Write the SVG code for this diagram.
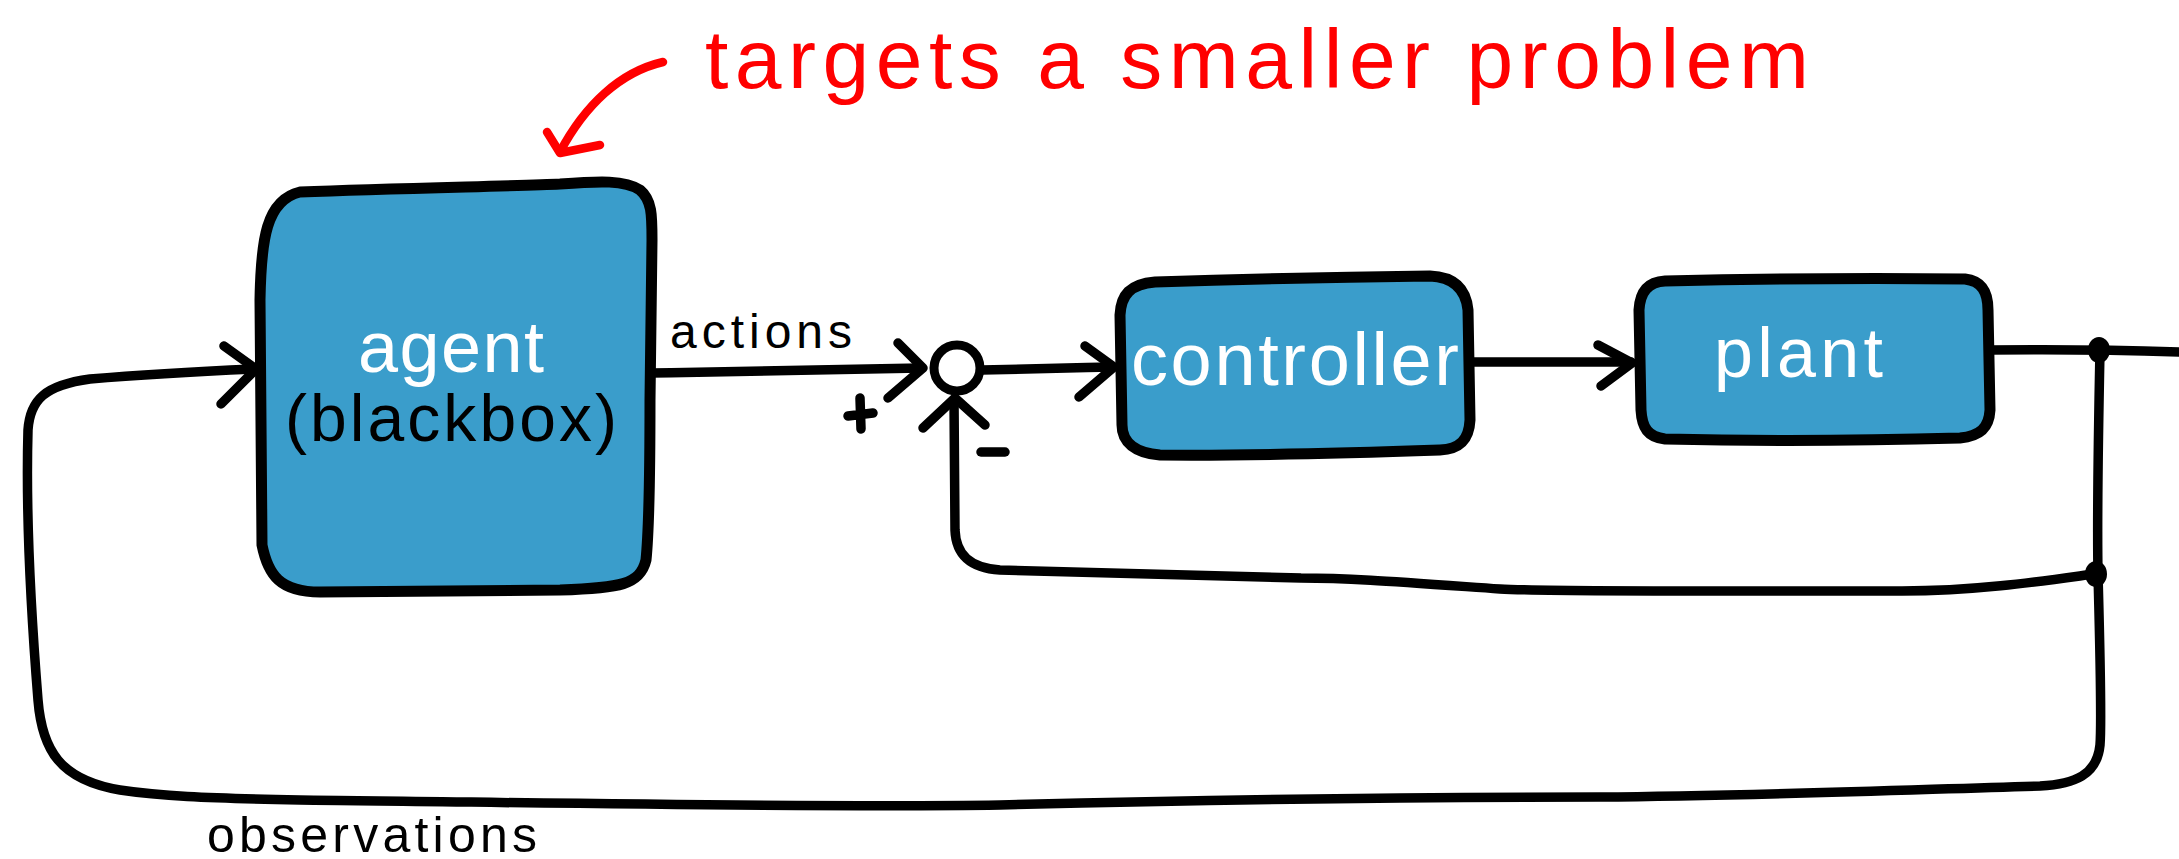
<svg xmlns="http://www.w3.org/2000/svg" width="2179" height="859" viewBox="0 0 2179 859">
<style>
.box{fill:#3a9dcb;stroke:#000;stroke-width:11;stroke-linejoin:round}
.ln{fill:none;stroke:#000;stroke-width:9.5;stroke-linecap:round;stroke-linejoin:round}
.hd{fill:none;stroke:#000;stroke-width:9.5;stroke-linecap:round;stroke-linejoin:round}
.red{fill:none;stroke:#ff0000;stroke-width:8.5;stroke-linecap:round;stroke-linejoin:round}
.t{font-family:"Liberation Sans",Arial,sans-serif}
.w{fill:#fff}
.k{fill:#000}
</style>
<rect width="2179" height="859" fill="#fff"/>

<g id="annotation">
<path class="red" d="M663 62 C620 72 585 105 560 152"/>
<path class="red" d="M547 132 L560 153 L600 145"/>
<text class="t" x="705" y="88" font-size="84" fill="#ff0000" textLength="1104">targets a smaller problem</text>
</g>

<g id="connectors">
<path class="ln" d="M652 373 C750 372 850 370 921 368"/>
<path class="hd" d="M898 343 L923 368 L888 398"/>
<path class="ln" d="M982 370 C1030 369 1070 368 1112 367"/>
<path class="hd" d="M1085 346 L1114 367 L1079 397"/>
<path class="ln" d="M1472 362 C1530 362 1590 362 1631 362"/>
<path class="hd" d="M1598 345 L1632 363 L1601 386"/>
<path class="ln" d="M1990 350 C2060 349 2120 350 2179 352"/>
<path class="ln" d="M2100 350 C2098 450 2097 520 2098 574 C2100 650 2102 720 2100 745 C2097 775 2075 784 2040 786 C1900 790 1750 796 1600 797 C1400 797 1200 800 1000 805 C800 808 500 802 300 800 C200 798 160 796 120 790 C60 780 42 750 38 700 C30 600 26 500 28 430 C30 400 45 385 90 379 C150 374 210 371 254 369"/>
<path class="hd" d="M224 346 L256 369 L221 404"/>
<path class="ln" d="M2094 574 C2050 580 1980 591 1902 591 C1750 591 1550 592 1500 589 C1400 582 1350 578 1301 578 C1200 575 1100 572 1000 570 C970 568 956 555 955 530 L954 400"/>
<path class="hd" d="M923 428 L955 398 L985 425"/>
<ellipse cx="2099" cy="350" rx="11" ry="13" fill="#000"/>
<ellipse cx="2096" cy="574" rx="11" ry="13" fill="#000"/>
</g>

<g id="agent">
<path class="box" d="M300 192 C400 188 520 186 560 184 C600 181 625 180 640 190 C652 200 652 215 652 240 L650 400 C650 480 648 540 646 560 C640 585 620 588 560 590 L320 592 C280 592 268 575 262 545 L260 300 C261 240 266 200 300 192 Z"/>
<text class="t w" x="358" y="372" font-size="72" textLength="186">agent</text>
<text class="t k" x="285" y="441" font-size="66" textLength="332">(blackbox)</text>
</g>

<g id="sum">
<circle cx="957" cy="368" r="23" fill="#fff" stroke="#000" stroke-width="9"/>
<path class="hd" d="M860 398 L861 429 M848 416 L873 413"/>
<path class="hd" d="M981 452 L1005 452"/>
</g>

<g id="controller">
<path class="box" d="M1155 282 C1250 279 1350 277 1430 276 C1455 277 1466 290 1468 310 L1470 420 C1469 440 1460 449 1440 450 C1350 453 1250 456 1160 455 C1135 453 1122 442 1122 425 L1120 315 C1121 295 1130 284 1155 282 Z"/>
<text class="t w" x="1131" y="385" font-size="74" textLength="328">controller</text>
</g>

<g id="plant">
<path class="box" d="M1665 281 C1750 279 1850 278 1965 279 C1982 281 1988 292 1988 310 L1990 410 C1989 428 1980 436 1960 438 C1850 441 1750 441 1665 439 C1648 437 1642 428 1641 410 L1639 310 C1640 292 1648 282 1665 281 Z"/>
<text class="t w" x="1714" y="377" font-size="70" textLength="169">plant</text>
</g>

<g id="labels">
<text class="t k" x="670" y="348" font-size="48" textLength="182">actions</text>
<text class="t k" x="207" y="852" font-size="50" textLength="330">observations</text>
</g>
</svg>
